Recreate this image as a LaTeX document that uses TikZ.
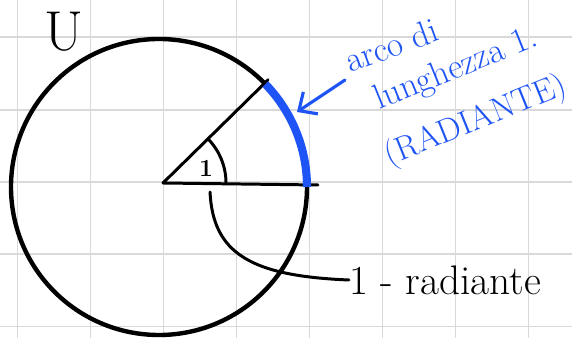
\documentclass[tikz,border=0pt]{standalone}
\usepackage{xcolor}
\usepackage{tikz}
\usetikzlibrary{arrows.meta, calc}
\definecolor{penblue}{RGB}{30,84,246}
\tikzstyle{gridline} = [draw=gray!30, line width=1.1pt]
\tikzstyle{pen} = [line width=2.5pt, line cap=round]
\tikzstyle{thinpen} = [line width=1.7pt, line cap=round]
\tikzstyle{bluearc} = [draw=penblue, line width=4.6pt]
\tikzstyle{bluearrow} = [draw=penblue, line width=1.8pt, line cap=round, -{Straight Barb[length=8pt,width=15pt,line width=1.8pt]}]
\tikzstyle{note} = [text=penblue, font=\fontsize{20}{24}\selectfont, rotate=22, inner sep=0pt, anchor=base west]
\tikzstyle{handtext} = [font=\fontsize{23.5}{28}\selectfont, inner sep=0pt]

\begin{document}
\begin{tikzpicture}[x=0.02cm, y=0.02cm]
    % Quadretti
    \useasboundingbox (0,0) rectangle (572,338);
    \fill [white] (0,0) rectangle (572,338);
    \foreach \gx in {17.5,90.5,...,529} \draw [gridline] (\gx,0) -- (\gx,338);
    \foreach \gy in {11.5,83.8,...,301} \draw [gridline] (0,\gy) -- (572,\gy);

    % Circonferenza
    \coordinate (C) at (159,151);
    \draw [pen] (C) circle (148);
    \node (U) [font=\fontsize{32}{36}\selectfont, inner sep=0pt] at (64,306) {U};

    % Angolo
    \coordinate (O) at (163,155);
    \coordinate (H) at (318,153);
    \coordinate (R) at ($(C)+(44.5:153)$);
    \draw [thinpen] (O) -- (H);
    \draw [thinpen] (O) -- (R);
    \draw [thinpen] ($(O)+(0:63)$) arc[start angle=0, end angle=44, radius=63];
    \node (uno) [font=\bfseries\fontsize{14}{14}\selectfont] at (206,170) {1};

    % Arco blu
    \coordinate (A) at ($(C)+(0:148)$);
    \draw [bluearc] (A) arc[start angle=0, end angle=44, radius=148];

    % Nota
    \node (arco) [note, rotate=-2] at (350,265) {arco di};
    \node (lung) [note] at (379,228) {lunghezza 1.};
    \node (radi) [note, font=\fontsize{19}{24}\selectfont] at (389,172) {(RADIANTE)};
    \coordinate (tail) at (345,258);
    \coordinate (tip) at (297,226);
    \draw [bluearrow] (tail) -- (tip);

    % Radiante
    \coordinate (start) at (210,146);
    \node (rad) [handtext, anchor=west] at (349,58) {1 - radiante};
    \draw [thinpen] (start) .. controls (213,85) and (250,62) .. (rad.west);
\end{tikzpicture}
\end{document}
